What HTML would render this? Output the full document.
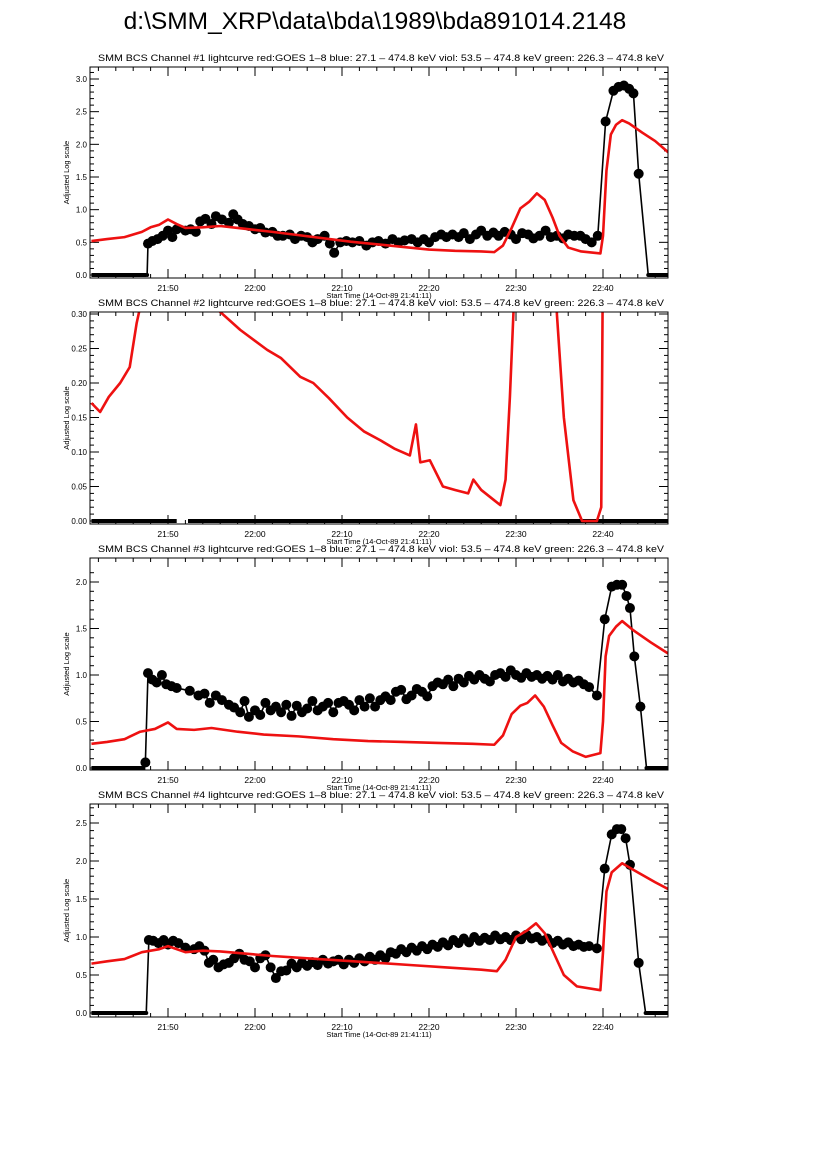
<!DOCTYPE html>
<html><head><meta charset="utf-8"><style>
html,body{margin:0;padding:0;background:#fff;}
svg{display:block;font-family:"Liberation Sans",sans-serif;}
</style></head><body>
<svg id="chart" width="826" height="1169" viewBox="0 0 826 1169" xmlns="http://www.w3.org/2000/svg">
<text x="375" y="29" font-size="24.5" text-anchor="middle" fill="#000">d:\SMM_XRP\data\bda\1989\bda891014.2148</text>
</svg>
<script>
// time in minutes after 21:40
const xTickMinutes = [10,20,30,40,50,60];
const xTickLabels = ["21:50","22:00","22:10","22:20","22:30","22:40"];
const panelTitles = [
 "SMM BCS Channel #1 lightcurve  red:GOES 1\u20138  blue: 27.1 \u2013 474.8 keV  viol: 53.5 \u2013 474.8 keV  green: 226.3 \u2013 474.8 keV",
 "SMM BCS Channel #2 lightcurve  red:GOES 1\u20138  blue: 27.1 \u2013 474.8 keV  viol: 53.5 \u2013 474.8 keV  green: 226.3 \u2013 474.8 keV",
 "SMM BCS Channel #3 lightcurve  red:GOES 1\u20138  blue: 27.1 \u2013 474.8 keV  viol: 53.5 \u2013 474.8 keV  green: 226.3 \u2013 474.8 keV",
 "SMM BCS Channel #4 lightcurve  red:GOES 1\u20138  blue: 27.1 \u2013 474.8 keV  viol: 53.5 \u2013 474.8 keV  green: 226.3 \u2013 474.8 keV"];
const yTicks1 = ["0.0","0.5","1.0","1.5","2.0","2.5","3.0"];
const yTicks2 = ["0.00","0.05","0.10","0.15","0.20","0.25","0.30"];
const yTicks3 = ["0.0","0.5","1.0","1.5","2.0"];
const yTicks4 = ["0.0","0.5","1.0","1.5","2.0","2.5"];

// GOES (red) series: [minute, value]
const goes1 = [[1.2,0.52],[3,0.55],[5,0.58],[7,0.66],[8,0.73],[9,0.77],[10,0.85],[11,0.78],[12,0.72],[14,0.73],[16,0.75],[18,0.72],[20,0.69],[22,0.66],[25,0.61],[28,0.56],[31,0.51],[34,0.47],[37,0.43],[40,0.39],[43,0.37],[46,0.36],[47.5,0.35],[48.5,0.45],[49.5,0.72],[50.5,1.02],[51.5,1.12],[52.4,1.25],[53.3,1.15],[54.2,0.88],[55,0.6],[56,0.42],[57.5,0.36],[59.7,0.33],[60,0.6],[60.4,1.6],[60.9,2.15],[61.5,2.3],[62.2,2.37],[63,2.32],[64.5,2.18],[66,2.05],[68,1.82]];
const goes2 = [[1.2,0.171],[2.2,0.158],[3.2,0.18],[4.5,0.2],[5.6,0.223],[6.4,0.287],[6.8,0.31],[8,0.33],[12,0.34],[16,0.303],[18.3,0.277],[21.4,0.248],[23,0.236],[25.2,0.209],[26.7,0.2],[28.5,0.178],[30.6,0.15],[32.5,0.13],[34.4,0.117],[36,0.105],[37.8,0.095],[38.5,0.14],[39,0.085],[40.1,0.088],[41.6,0.05],[43,0.045],[44.5,0.04],[45.1,0.06],[46,0.045],[47.5,0.03],[48.2,0.023],[48.8,0.06],[49.3,0.18],[49.7,0.3],[50.2,0.4],[54.5,0.4],[54.7,0.3],[55.5,0.15],[56.6,0.03],[57.6,0.0],[59.3,0.0],[59.8,0.02],[60,0.4]];
const goes3 = [[1.2,0.26],[3,0.28],[5,0.31],[6.8,0.39],[8.5,0.42],[10,0.49],[11,0.42],[13,0.41],[15,0.43],[18,0.39],[21,0.36],[25,0.34],[29,0.31],[33,0.29],[37,0.28],[41,0.27],[45,0.26],[47.5,0.25],[48.5,0.35],[49.5,0.58],[50.5,0.67],[51.3,0.7],[52.2,0.78],[53.2,0.66],[54.2,0.46],[55.2,0.27],[56.5,0.18],[58,0.12],[59.7,0.16],[60,0.5],[60.3,1.2],[60.7,1.42],[61.5,1.52],[62.2,1.58],[63.5,1.48],[65.5,1.35],[68,1.2]];
const goes4 = [[1.2,0.65],[3,0.68],[5,0.71],[7,0.8],[9,0.84],[10,0.88],[11,0.84],[12,0.8],[14,0.82],[16,0.81],[19,0.78],[22,0.75],[26,0.72],[30,0.69],[34,0.66],[38,0.63],[42,0.6],[46,0.57],[47.8,0.55],[48.8,0.7],[50,1.0],[51.2,1.08],[52.3,1.18],[53.3,1.05],[54.5,0.75],[55.5,0.5],[57,0.35],[59.7,0.3],[60,0.8],[60.4,1.6],[61,1.85],[62.2,1.97],[64,1.85],[66,1.72],[68,1.6]];

// BCS (black) series
const bcsZeroStart = [[1.2,7.5],[1.2,11],[1.2,7.4],[1.2,7.5]];
const bcsZeroEnd = [[65.2,68],[12.3,68],[65,68],[64.9,68]];
const bcs1 = [[7.6,0.0],[7.7,0.48],[8.2,0.52],[8.8,0.55],[9.4,0.6],[10,0.68],[10.5,0.58],[11,0.7],[12,0.68],[12.6,0.7],[13.2,0.66],[13.7,0.82],[14.3,0.86],[15,0.78],[15.5,0.9],[16.2,0.85],[17,0.8],[17.5,0.93],[18,0.85],[18.6,0.78],[19.3,0.75],[20,0.7],[20.6,0.72],[21.2,0.65],[22,0.66],[22.6,0.6],[23.2,0.6],[24,0.62],[24.6,0.55],[25.3,0.6],[26,0.58],[26.6,0.5],[27.2,0.55],[28,0.6],[28.6,0.48],[29.1,0.34],[29.8,0.5],[30.5,0.52],[31.2,0.5],[32,0.52],[32.8,0.45],[33.5,0.5],[34.2,0.52],[35,0.48],[35.8,0.55],[36.5,0.5],[37.2,0.53],[38,0.55],[38.7,0.5],[39.4,0.55],[40,0.5],[40.7,0.58],[41.4,0.62],[42,0.58],[42.7,0.62],[43.4,0.58],[44,0.64],[44.7,0.55],[45.4,0.62],[46,0.68],[46.7,0.6],[47.4,0.65],[48,0.6],[48.7,0.66],[49.4,0.62],[50,0.55],[50.7,0.64],[51.4,0.62],[52,0.56],[52.7,0.6],[53.4,0.68],[54,0.58],[54.7,0.6],[55.4,0.56],[56,0.62],[56.7,0.6],[57.4,0.6],[58,0.55],[58.7,0.5],[59.4,0.6],[60.3,2.35],[61.2,2.82],[61.8,2.88],[62.4,2.9],[63,2.85],[63.5,2.78],[64.1,1.55],[65.2,0.0]];
const bcs3 = [[7.4,0.06],[7.7,1.02],[8.2,0.95],[8.7,0.92],[9.3,1.0],[9.8,0.9],[10.4,0.88],[11,0.86],[12.5,0.83],[13.5,0.78],[14.2,0.8],[14.8,0.7],[15.5,0.78],[16.2,0.73],[17,0.68],[17.6,0.65],[18.3,0.6],[18.8,0.72],[19.3,0.55],[20,0.62],[20.6,0.57],[21.2,0.7],[21.8,0.62],[22.4,0.66],[23,0.6],[23.6,0.68],[24.2,0.56],[24.8,0.67],[25.4,0.6],[26,0.64],[26.6,0.72],[27.2,0.62],[27.8,0.66],[28.4,0.7],[29,0.6],[29.6,0.7],[30.2,0.72],[30.8,0.68],[31.4,0.62],[32,0.73],[32.6,0.66],[33.2,0.75],[33.8,0.66],[34.4,0.73],[35,0.77],[35.6,0.73],[36.2,0.82],[36.8,0.84],[37.4,0.74],[38,0.78],[38.6,0.85],[39.2,0.82],[39.8,0.77],[40.4,0.88],[41,0.92],[41.6,0.9],[42.2,0.95],[42.8,0.88],[43.4,0.96],[44,0.92],[44.6,0.99],[45.2,0.95],[45.8,1.0],[46.4,0.96],[47,0.93],[47.6,1.0],[48.2,1.02],[48.8,0.98],[49.4,1.05],[50,1.0],[50.6,0.97],[51.2,1.02],[51.8,0.98],[52.4,1.0],[53,0.96],[53.6,0.99],[54.2,0.95],[54.8,1.0],[55.4,0.93],[56,0.96],[56.6,0.92],[57.2,0.94],[57.8,0.9],[58.4,0.87],[59.3,0.78],[60.2,1.6],[61,1.95],[61.6,1.97],[62.2,1.97],[62.7,1.85],[63.1,1.72],[63.6,1.2],[64.3,0.66],[65,0.0]];
const bcs4 = [[7.5,0.0],[7.8,0.96],[8.3,0.95],[8.9,0.92],[9.5,0.96],[10,0.9],[10.6,0.95],[11.2,0.92],[12,0.86],[13,0.84],[13.6,0.88],[14.2,0.82],[14.7,0.66],[15.2,0.7],[15.8,0.6],[16.4,0.64],[17,0.66],[17.6,0.72],[18.2,0.78],[18.8,0.7],[19.4,0.68],[20,0.6],[20.6,0.72],[21.2,0.76],[21.8,0.6],[22.4,0.46],[23,0.55],[23.6,0.56],[24.2,0.65],[24.8,0.6],[25.4,0.66],[26,0.62],[26.6,0.67],[27.2,0.63],[27.8,0.7],[28.4,0.65],[29,0.68],[29.6,0.7],[30.2,0.64],[30.8,0.7],[31.4,0.66],[32,0.72],[32.6,0.68],[33.2,0.74],[33.8,0.7],[34.4,0.76],[35,0.72],[35.6,0.8],[36.2,0.78],[36.8,0.84],[37.4,0.8],[38,0.86],[38.6,0.82],[39.2,0.88],[39.8,0.84],[40.4,0.9],[41,0.87],[41.6,0.93],[42.2,0.89],[42.8,0.96],[43.4,0.92],[44,0.98],[44.6,0.93],[45.2,1.0],[45.8,0.95],[46.4,0.99],[47,0.96],[47.6,1.02],[48.2,0.97],[48.8,1.0],[49.4,0.96],[50,1.02],[50.6,0.97],[51.2,1.03],[51.8,0.98],[52.4,1.0],[53,0.95],[53.6,0.98],[54.2,0.92],[54.8,0.95],[55.4,0.9],[56,0.93],[56.6,0.88],[57.2,0.9],[57.8,0.87],[58.4,0.88],[59.3,0.85],[60.2,1.9],[61,2.35],[61.6,2.42],[62.1,2.42],[62.6,2.3],[63.1,1.95],[64.1,0.66],[64.9,0.0]];

const panels = [
 {top:67,bottom:278,y0:275,yv:3.0,ticks:yTicks1,step:0.5,minor:0.1,goes:goes1,bcs:bcs1},
 {top:312,bottom:524,y0:521,yv:0.30,ticks:yTicks2,step:0.05,minor:0.01,goes:goes2,bcs:null},
 {top:558,bottom:770,y0:768,yv:2.0,ticks:yTicks3,step:0.5,minor:0.1,goes:goes3,bcs:bcs3},
 {top:804,bottom:1017,y0:1013,yv:2.5,ticks:yTicks4,step:0.5,minor:0.1,goes:goes4,bcs:bcs4}];
const yTopPx = [79,314,582,823];

const NS="http://www.w3.org/2000/svg";
const svg=document.getElementById('chart');
const L=90,R=668;
function xs(t){return 168+(t-10)*8.7;}
function mk(tag,attrs,parent){const e=document.createElementNS(NS,tag);for(const k in attrs)e.setAttribute(k,attrs[k]);(parent||svg).appendChild(e);return e;}

panels.forEach((p,i)=>{
  const g=mk('g',{});
  
  
  const ys=v=>p.y0-(v/p.yv)*(p.y0-yTopPx[i]);
  const cid='clip'+i;
  const cp=mk('clipPath',{id:cid},g);
  mk('rect',{x:L,y:p.top,width:R-L,height:p.bottom-p.top},cp);
  const t=mk('text',{x:381,y:p.top-6,'font-size':'9.6','text-anchor':'middle',textLength:'566',lengthAdjust:'spacingAndGlyphs'},g);
  t.textContent=panelTitles[i];
  
  
  for(let m=2;m<=66;m+=2){
    const x=xs(m),maj=m%10===0,len=maj?9:4;
    mk('line',{x1:x,x2:x,y1:p.bottom,y2:p.bottom-len,stroke:'#000','stroke-width':1},g);
    mk('line',{x1:x,x2:x,y1:p.top,y2:p.top+len,stroke:'#000','stroke-width':1},g);
  }
  xTickMinutes.forEach((m,k)=>{
    const tx=mk('text',{x:xs(m),y:p.bottom+13,'font-size':'8.5','text-anchor':'middle'},g);
    tx.textContent=xTickLabels[k];
    
    
  });
  const xt=mk('text',{x:379,y:p.bottom+20,'font-size':'7.5','text-anchor':'middle'},g);
  xt.textContent='Start Time (14-Oct-89 21:41:11)';
  
  
  const nMin=Math.round(p.yv/p.minor*1.07);
  for(let k=0;k<=nMin;k++){
    const v=k*p.minor,y=ys(v);if(y<p.top)break;
    const maj=Math.abs(v/p.step-Math.round(v/p.step))<1e-6,len=maj?9:4;
    mk('line',{x1:L,x2:L+len,y1:y,y2:y,stroke:'#000','stroke-width':1},g);
    mk('line',{x1:R,x2:R-len,y1:y,y2:y,stroke:'#000','stroke-width':1},g);
  }
  p.ticks.forEach((lab,k)=>{
    const ty=mk('text',{x:L-3,y:ys(k*p.step)+3,'font-size':'8','text-anchor':'end'},g);
    ty.textContent=lab;
    
    
  });
  const ya=mk('text',{x:0,y:0,'font-size':'7.5','text-anchor':'middle',transform:`translate(69,${(p.top+p.bottom)/2}) rotate(-90)`},g);
  ya.textContent='Adjusted Log scale';
  
  
  const dg=mk('g',{'clip-path':`url(#${cid})`},g);
  const zs=bcsZeroStart[i],ze=bcsZeroEnd[i];
  [zs,ze].forEach(seg=>{
    const zl=mk('line',{x1:xs(seg[0]),x2:xs(seg[1]),y1:ys(0),y2:ys(0),stroke:'#000','stroke-width':4},dg);
    
    
  });
  if(p.bcs){
    const pts=p.bcs.map(d=>xs(d[0])+','+ys(d[1])).join(' ');
    const bl=mk('polyline',{points:pts,fill:'none',stroke:'#000','stroke-width':1.6},dg);
    
    
    p.bcs.forEach(d=>{
      const c=mk('circle',{cx:xs(d[0]),cy:ys(d[1]),r:d[1]===0?2:5,fill:'#000'},dg);
      
      
    });
  }
  const gp=p.goes.map(d=>xs(d[0])+','+ys(d[1])).join(' ');
  const rl=mk('polyline',{points:gp,fill:'none',stroke:'#ee1111','stroke-width':2.6,'stroke-linejoin':'round'},dg);
  
  
  const fr=mk('rect',{x:L,y:p.top,width:R-L,height:p.bottom-p.top,fill:'none',stroke:'#000','stroke-width':1},g);
  
  
});
</script>
</body></html>
